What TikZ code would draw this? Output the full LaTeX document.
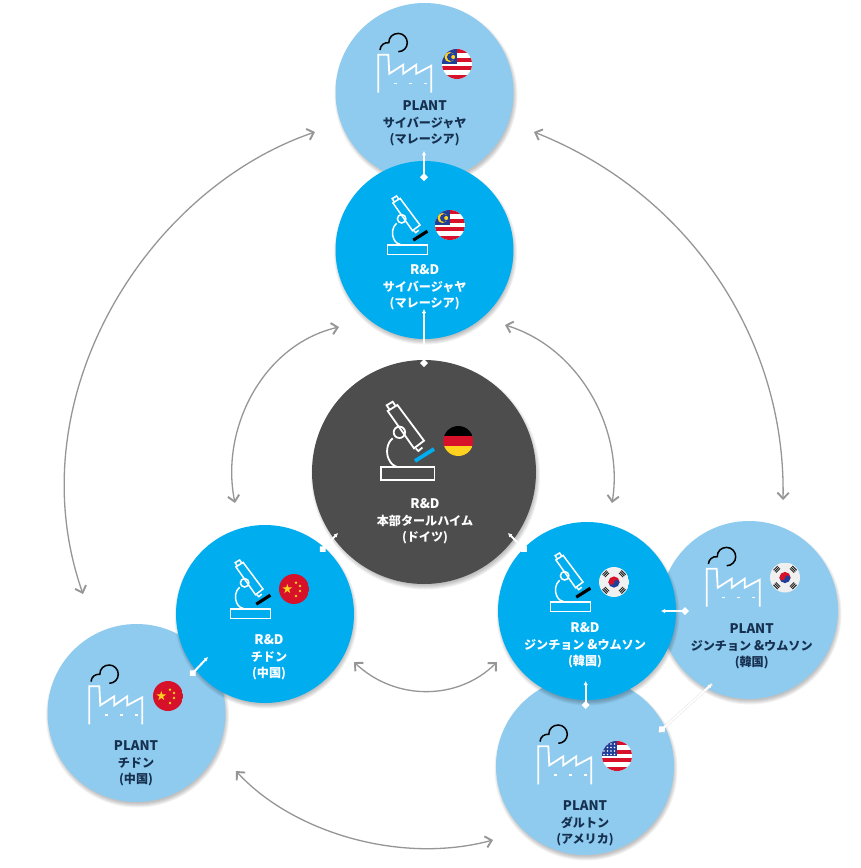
\documentclass[tikz,border=0pt]{standalone}
\usepackage{fontspec}
\setmainfont{Noto Sans CJK JP}
\usetikzlibrary{arrows.meta,calc}
\definecolor{plantblue}{HTML}{8FCBEF}
\definecolor{rdblue}{HTML}{00ADEF}
\definecolor{hqgrey}{HTML}{4D4D4D}
\definecolor{navy}{HTML}{16304F}
\definecolor{arcgrey}{HTML}{969696}
\definecolor{flagred}{HTML}{D8112B}
\definecolor{flagblue}{HTML}{1F3F98}
\definecolor{flagyel}{HTML}{FFD21F}
\newcommand{\lat}[1]{{\fontsize{13.2}{16.3}\selectfont #1}}
\tikzset{
  hub/.style={circle,inner sep=0pt,outer sep=0pt,minimum size=178pt},
  plantc/.style={hub,fill=plantblue},
  rdc/.style={hub,fill=rdblue},
  hqc/.style={hub,fill=hqgrey,minimum size=224pt},
  caption/.style={align=center,font=\fontsize{12.1}{16.3}\selectfont\bfseries,inner sep=0pt},
  plantcap/.style={caption,text=navy},
  rdcap/.style={caption,text=white},
  arcline/.style={draw=arcgrey,line width=1.3pt,{Straight Barb[length=6pt,width=11.5pt,line width=1.9pt]}-{Straight Barb[length=6pt,width=11.5pt,line width=1.9pt]}},
  link/.style={draw=white,line width=2pt,{Latex[length=4pt,width=4.5pt]}-{Turned Square[length=8pt,width=8pt]}},
  ico/.style={draw=white,line width=1.8pt,line join=miter},
}
\newcommand{\softshadow}[3]{%
  \foreach \d in {-1.5,-0.5,0.5,1.5,2.5}{
    \fill[black,opacity=0.05] (#1+1,#2+3) circle ({#3+\d});
  }}
\newcommand{\factoryicon}[2]{%
 \begin{scope}[shift={(#1,#2)}]
  \draw[ico] (0,0) -- (0,-38) -- (10,-38) -- (11,-19) -- (25,-28) -- (25,-19) -- (38,-28) -- (38,-19) -- (53,-27) -- (53,0);
  \foreach \q in {17,32,47}{\draw[white,line width=1.6pt] (\q-1.3,-9.3) -- (\q+1.3,-9.3);}
  \draw[black,line width=1.5pt] (1.7,-42.7) .. controls (2,-47.5) and (6,-50.5) .. (10.5,-50) .. controls (10.5,-55.5) and (14.5,-59.3) .. (20,-59.3) .. controls (25,-59.3) and (29,-55) .. (29,-50) .. controls (29,-45) and (25,-41) .. (20,-41);
 \end{scope}}
\newcommand{\microicon}[5]{% x y scale stagecolor linewidth
 \begin{scope}[shift={(#1,#2)},scale=#3]
  \draw[draw=white,line width=#5pt] (0,0) rectangle (53.7,-12.7);
  \draw[draw=white,line width=#5pt] (7,-69) -- (16.7,-75) -- (43.3,-39.3) -- (33.3,-31.7) -- cycle;
  \draw[draw=white,line width=#5pt] (8.7,-70.5) -- (6,-74.7) -- (12,-78.3) -- (14.5,-74.5);
  \draw[draw=white,line width=#5pt] (35,-31.7) -- (37.7,-29) -- (41.7,-32.5);
  \draw[draw=white,line width=#5pt] (18.7,-47.7) circle (5.7);
  \draw[draw=white,line width=#5pt] (12,-41.7) .. controls (6,-37) and (5,-27) .. (8,-21) .. controls (10,-16) and (14,-13.5) .. (17.7,-12.7);
  \draw[draw=#4,line width={#5pt*2.1}] (34.3,-19) -- (53.3,-31);
 \end{scope}}
\newcommand{\flagmy}[2]{\begin{scope}[shift={(#1,#2)}]
  \clip (0,0) circle (15);
  \fill[white] (-15,-15) rectangle (15,15);
  \foreach \k in {0,1,2,3}{\fill[flagred] (-15,-15+\k*8.57) rectangle (15,-15+\k*8.57+4.29);}
  \fill[flagblue] (-16,-16) rectangle (0,0);
  \fill[flagyel] (-7.5,-7) circle (5);
  \fill[flagblue] (-6,-7) circle (4);
  \fill[flagyel] (-3.8,-7) circle (2);
 \end{scope}}
\newcommand{\flagus}[2]{\begin{scope}[shift={(#1,#2)}]
  \clip (0,0) circle (15);
  \fill[white] (-15,-15) rectangle (15,15);
  \foreach \k in {0,1,2,3}{\fill[flagred] (-15,-15+\k*8.57) rectangle (15,-15+\k*8.57+4.29);}
  \fill[flagblue] (-16,-16) rectangle (0,0);
  \foreach \a in {-13,-9.5,-6,-2.5}{\foreach \b in {-12,-8.5,-5,-1.5}{\fill[white] (\a,\b) circle (0.8);}}
 \end{scope}}
\newcommand{\flagde}[2]{\begin{scope}[shift={(#1,#2)}]
  \clip (0,0) circle (15);
  \fill[black] (-15,-15) rectangle (15,-5);
  \fill[flagred] (-15,-5) rectangle (15,5);
  \fill[flagyel] (-15,5) rectangle (15,15);
 \end{scope}}
\newcommand{\flagcn}[2]{\begin{scope}[shift={(#1,#2)}]
  \clip (0,0) circle (15);
  \fill[flagred] (-15,-15) rectangle (15,15);
  \fill[flagyel] ($(-6.7,0)+(-90:5)$) -- ($(-6.7,0)+(54:5)$) -- ($(-6.7,0)+(198:5)$) -- ($(-6.7,0)+(-18:5)$) -- ($(-6.7,0)+(126:5)$) -- cycle;
  \foreach \a/\b in {2/-6.3,6/-3,6/2,2/7}{\fill[flagyel] (\a,\b) circle (1.3);}
 \end{scope}}
\newcommand{\flagkr}[2]{\begin{scope}[shift={(#1,#2)}]
  \clip (0,0) circle (15);
  \fill[gray!12] (-15,-15) rectangle (15,15);
  \begin{scope}\clip (-6,-6) rectangle (6,0.6);\fill[flagred] (0,0) circle (5.6);\end{scope}
  \begin{scope}\clip (-6,0.6) rectangle (6,6);\fill[flagblue] (0,0) circle (5.6);\end{scope}
  \fill[flagred] (-2.6,0) circle (2.8);
  \fill[flagblue] (2.6,0.4) circle (2.5);
  \foreach \a/\b in {-1/-1,1/-1,-1/1,1/1}{
    \begin{scope}[shift={(\a*8.2,\b*8.2)},rotate={\a*\b*45}]
      \foreach \s in {-1.7,0,1.7}{\draw[black!85,line width=1pt] (-3,\s) -- (3,\s);}
    \end{scope}}
 \end{scope}}
\begin{document}
\begin{tikzpicture}[x=1pt,y=-1pt]
\useasboundingbox (0,0) rectangle (861,868);
\fill[white] (0,0) rectangle (861,868);

% circles
\softshadow{425}{92}{89}
\node[plantc] (pcy) at (424.5,92) {};
\softshadow{424.5}{250}{89}
\node[rdc] (rcy) at (424.5,250) {};
\softshadow{424.5}{472}{112}
\node[hqc] (hq) at (424,472) {};
\softshadow{749}{610}{89}
\node[plantc] (pko) at (749,610) {};
\softshadow{585}{766}{89}
\node[plantc] (pda) at (585,766) {};
\softshadow{587}{611}{89}
\node[rdc] (rko) at (587,611) {};
\softshadow{136.5}{713}{89}
\node[plantc] (pch) at (136.5,713) {};
\softshadow{265}{614}{89}
\node[rdc] (rch) at (265,614) {};

% curved double arrows
\coordinate (a1) at (315,132); \coordinate (a2) at (83,594);
\coordinate (b1) at (534,132); \coordinate (b2) at (783,500);
\coordinate (c1) at (339,327); \coordinate (c2) at (235,503);
\coordinate (d1) at (505,325); \coordinate (d2) at (612,503);
\coordinate (e1) at (354,662); \coordinate (e2) at (497,662);
\coordinate (f1) at (236,771); \coordinate (f2) at (493,840);
\draw[arcline] (a1) .. controls (145,190) and (15,400) .. (a2);
\draw[arcline] (b1) .. controls (690,194) and (786,340) .. (b2);
\draw[arcline] (c1) .. controls (262,345) and (220,430) .. (c2);
\draw[arcline] (d1) .. controls (580,348) and (624,430) .. (d2);
\draw[arcline] (e1) .. controls (395,701) and (458,701) .. (e2);
\draw[arcline] (f1) .. controls (292,832) and (400,865) .. (f2);

% white links
\coordinate (w1a) at (424,151); \coordinate (w1b) at (424,181);
\coordinate (w2a) at (424,309); \coordinate (w2b) at (424,367);
\coordinate (w3a) at (338,533); \coordinate (w3b) at (320,552);
\coordinate (w4a) at (508,533); \coordinate (w4b) at (527,552);
\coordinate (w5a) at (661,611); \coordinate (w5b) at (689,611);
\coordinate (w6a) at (585.7,681); \coordinate (w6b) at (585.7,709);
\coordinate (w7a) at (712,684); \coordinate (w7b) at (659,732);
\coordinate (w8a) at (208,657); \coordinate (w8b) at (190,676);
\draw[black!14,line width=2.6pt] (w7a) -- (w7b);
\foreach \n in {1,...,8}{\draw[link] (w\n a) -- (w\n b);}

% icons and flags
\factoryicon{378.3}{92.7}\flagmy{457}{64}
\factoryicon{706.7}{606.7}\flagkr{785}{577.5}
\factoryicon{538.3}{784.3}\flagus{617}{756}
\factoryicon{89.3}{724.3}\flagcn{168}{696}
\microicon{387.7}{254.3}{0.745}{black}{1.5}\flagmy{450}{225}
\microicon{380.7}{480}{1}{rdblue}{1.8}\flagde{458.3}{441}
\microicon{550.7}{611.3}{0.745}{black}{1.5}\flagkr{614}{582}
\microicon{230.7}{618.3}{0.745}{black}{1.5}\flagcn{294}{589}

% captions
\node[plantcap] (tpcy) at (424.7,123.5) {\lat{PLANT}\\サイバージャヤ\\(マレーシア)};
\node[rdcap] (trcy) at (424.7,287.5) {\lat{R\&D}\\サイバージャヤ\\(マレーシア)};
\node[rdcap] (thq) at (425,521.5) {\lat{R\&D}\\本部タールハイム\\(ドイツ)};
\node[rdcap] (trko) at (585,645.5) {\lat{R\&D}\\ジンチョン \lat{\&}ウムソン\\(韓国)};
\node[plantcap] (tpko) at (751.7,646.5) {\lat{PLANT}\\ジンチョン \lat{\&}ウムソン\\(韓国)};
\node[rdcap] (trch) at (269,657.5) {\lat{R\&D}\\チドン\\(中国)};
\node[plantcap] (tpch) at (136,763.5) {\lat{PLANT}\\チドン\\(中国)};
\node[plantcap] (tpda) at (585,823.5) {\lat{PLANT}\\ダルトン\\(アメリカ)};
\end{tikzpicture}
\end{document}
